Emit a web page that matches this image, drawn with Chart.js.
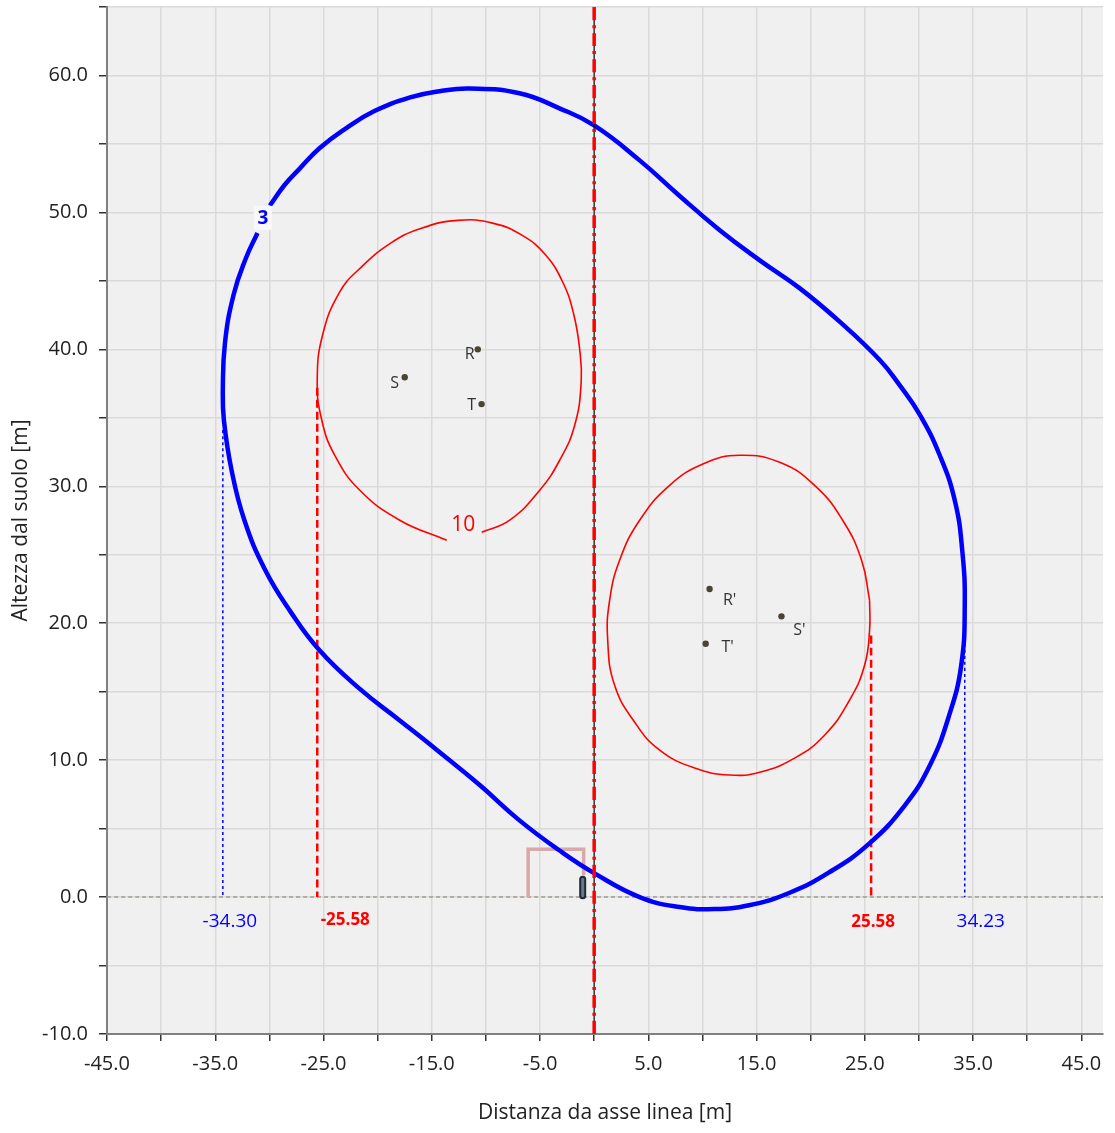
<!DOCTYPE html>
<html>
<head>
<meta charset="utf-8">
<script src="https://cdn.jsdelivr.net/npm/chart.js@4.4.1/dist/chart.umd.min.js"></script>
<style>
  body { margin: 0; background: #ffffff; }
  #wrap { width: 1115px; height: 1133px; }
</style>
</head>
<body>
<div id="wrap"><canvas id="myChart"></canvas></div>
<script>
//  Curva di livello 3 (blu), aperta sull'etichetta "3"
const contour3 = [
    [-29.96, 50.5], [-28.6, 52.0], [-27.2, 53.2], [-25.35, 54.7], [-23.0, 56.1], [-20.3, 57.4],
    [-17.0, 58.4], [-14.3, 58.85], [-11.5, 59.05], [-6.9, 58.7], [-3.2, 57.6], [0.0, 56.35],
    [4.2, 53.8], [7.9, 51.2], [11.6, 48.7], [15.3, 46.5], [19.0, 44.45], [22.7, 42.0],
    [26.4, 39.2], [28.2, 37.4], [30.1, 35.2], [31.9, 32.3], [33.3, 29.0], [34.0, 25.3],
    [34.23, 21.3], [33.9, 16.9], [32.8, 13.3], [31.0, 9.6], [28.7, 6.7], [25.4, 3.9],
    [21.7, 1.8], [18.0, 0.3], [14.3, -0.6], [11.1, -0.88], [7.9, -0.73], [4.2, 0.0],
    [0.0, 1.75], [-3.2, 3.4], [-6.9, 5.6], [-10.6, 8.2], [-14.3, 10.6], [-17.96, 12.9],
    [-21.65, 15.2], [-25.35, 18.0], [-28.1, 20.9], [-30.4, 23.9], [-32.3, 27.5], [-33.5, 31.2],
    [-34.2, 34.8], [-34.30, 37.0], [-34.1, 40.5], [-33.3, 44.0], [-32.2, 46.6], [-31.1, 48.5]
];
//  Curva di livello 10 (rossa) - conduttori R S T, aperta sull'etichetta "10"
const contour10a = [
    [-10.39, 26.64], [-7.80, 27.52], [-5.03, 29.71], [-3.19, 31.90], [-1.80, 34.45], [-1.2, 37.6],
    [-1.34, 40.0], [-1.90, 42.6], [-2.9, 44.9], [-4.5, 46.9], [-6.6, 48.3], [-9.3, 49.2],
    [-12.6, 49.42], [-16.1, 48.8], [-18.9, 47.7], [-21.65, 45.9], [-23.5, 44.2], [-25.07, 41.1],
    [-25.58, 37.74], [-25.16, 34.82], [-23.96, 32.26], [-21.65, 29.71], [-17.96, 27.52], [-13.62, 26.06]
];
//  Curva di livello 10 (rossa) - conduttori R' S' T'
const contour10b = [
    [25.44, 21.68], [25.44, 19.49], [24.98, 16.93], [23.59, 14.38], [21.28, 11.82], [18.51, 10.15],
    [15.28, 9.12], [12.51, 8.91], [9.28, 9.42], [6.05, 10.73], [3.74, 12.77], [1.89, 15.47],
    [1.25, 18.76], [1.43, 21.68], [2.35, 24.60], [4.20, 27.52], [6.97, 30.07], [10.20, 31.68],
    [13.43, 32.26], [17.13, 31.75], [20.36, 30.07], [22.95, 27.52], [24.70, 24.60], [25.44, 21.68]
];
//  Conduttori
const condNames = ["R", "S", "T", "R'", "S'", "T'"];
const condX = [-10.75, -17.5, -10.4, 10.66, 17.3, 10.3];
const condY = [40.0, 37.96, 36.0, 22.5, 20.5, 18.5];
//  Distanze di prima approssimazione
const dpaBlueX = [-34.30, 34.23];
const dpaBlueTop = [34.1, 18.5];
const dpaRedX = [-25.58, 25.58];
const dpaRedTop = [37.2, 19.1];
//  Edificio e ricettore
const building = [[-6.1, 0], [-6.1, 3.5], [-0.97, 3.5], [-0.97, 1.6]];
const receptor = [[-1.06, 0.1], [-1.06, 1.3]];

const xMin = -45, xMax = 47, yMin = -10, yMax = 65;

const pts = arr => arr.map(p => ({x: p[0], y: p[1]}));

function lineSet(data, color, width, dash, order){
    return {
        data: data, showLine: true, pointRadius: 0, pointHoverRadius: 0,
        borderColor: color, backgroundColor: color, borderWidth: width,
        borderDash: dash || [], order: order, tension: 0.45, fill: false
    };
}

const datasets = [];
datasets.push({
    data: condX.map((x, i) => ({x: x, y: condY[i]})),
    pointRadius: 3.2, pointBackgroundColor: '#4a4530', pointBorderWidth: 0,
    showLine: false, order: 0
});
datasets.push(lineSet(pts([[0, yMin], [0, yMax]]), '#ff0000', 3.5, [13, 5, 3, 5], 1));
datasets.push(lineSet(pts([[0, yMin], [0, yMax]]), '#111111', 1.2, [], 2));
let rec = lineSet(pts(receptor), '#1c2b3a', 7, [], 3);
rec.borderCapStyle = 'round';
datasets.push(rec);
let rec2 = lineSet(pts(receptor), '#6b7682', 3, [], 2.9);
rec2.borderCapStyle = 'round';
datasets.push(rec2);
datasets.push(lineSet(pts(contour3), '#0000ff', 4.5, [], 4));
let bld = lineSet(pts(building), '#d9a8a8', 3.5, [], 5);
bld.tension = 0;
datasets.push(bld);
datasets.push(lineSet(pts(contour10a), '#ff0000', 1.6, [], 6));
datasets.push(lineSet(pts(contour10b), '#ff0000', 1.6, [], 6));
for(let i=0; i<dpaRedX.length; i++){
    datasets.push(lineSet(pts([[dpaRedX[i], dpaRedTop[i]], [dpaRedX[i], 0]]), '#ff0000', 2.5, [8, 4], 7));
}
for(let i=0; i<dpaBlueX.length; i++){
    datasets.push(lineSet(pts([[dpaBlueX[i], dpaBlueTop[i]], [dpaBlueX[i], 0]]), '#0000ff', 1.5, [3, 3], 7));
}
datasets.push(lineSet(pts([[xMin, 0], [xMax, 0]]), '#a09c90', 1.5, [4, 3], 8));

//  Sfondo area grafico ed etichette
const labelsPlugin = {
    id: 'labelsPlugin',
    beforeDraw(chart){
        const {ctx, chartArea} = chart;
        ctx.save();
        ctx.fillStyle = '#f0f0f0';
        ctx.fillRect(chartArea.left, chartArea.top, chartArea.right - chartArea.left, chartArea.bottom - chartArea.top);
        ctx.restore();
    },
    afterDatasetsDraw(chart){
        const ctx = chart.ctx;
        const sx = chart.scales.x, sy = chart.scales.y;
        ctx.save();
        ctx.textAlign = 'center';
        ctx.textBaseline = 'middle';

        //  nomi conduttori
        const offs = [[-8, 5], [-10, 6], [-10, 1], [20, 11], [18, 14], [22, 4]];
        ctx.font = '16px "Open Sans"';
        ctx.fillStyle = '#333333';
        condNames.forEach((n, i) => {
            ctx.fillText(n, sx.getPixelForValue(condX[i]) + offs[i][0], sy.getPixelForValue(condY[i]) + offs[i][1]);
        });

        //  etichetta curva 3
        let px = sx.getPixelForValue(-30.6), py = sy.getPixelForValue(49.6);
        ctx.fillStyle = '#f8f8f8';
        ctx.fillRect(px - 9, py - 12, 18, 24);
        ctx.font = 'bold 19px "Open Sans"';
        ctx.fillStyle = '#0000ff';
        ctx.fillText('3', px, py + 1);

        //  etichetta curva 10
        ctx.font = '21px "Open Sans"';
        ctx.fillStyle = '#ff0000';
        ctx.fillText('10', sx.getPixelForValue(-12.1), sy.getPixelForValue(27.2));

        //  quote DPA
        const y0 = sy.getPixelForValue(0) + 25;
        ctx.font = '19px "Open Sans"';
        ctx.fillStyle = '#0000ff';
        ctx.fillText(dpaBlueX[0].toFixed(2), sx.getPixelForValue(dpaBlueX[0]) + 7, y0);
        ctx.fillText(dpaBlueX[1].toFixed(2), sx.getPixelForValue(dpaBlueX[1]) + 16, y0);
        ctx.font = 'bold 17px "Open Sans"';
        ctx.fillStyle = '#ff0000';
        ctx.fillText(dpaRedX[0].toFixed(2), sx.getPixelForValue(dpaRedX[0]) + 28, y0 - 2);
        ctx.fillText(dpaRedX[1].toFixed(2), sx.getPixelForValue(dpaRedX[1]) + 2, y0);
        ctx.restore();
    }
};

const config = {
    type: 'scatter',
    data: { datasets: datasets },
    options: {
        responsive: true,
        maintainAspectRatio: false,
        animation: false,
        layout: { padding: { top: 7, right: 12 } },
        plugins: { legend: { display: false }, tooltip: { enabled: false } },
        scales: {
            x: {
                type: 'linear', min: xMin, max: xMax,
                afterFit: scale => { scale.height = 99; },
                ticks: {
                    stepSize: 5, includeBounds: false, padding: 11, color: '#222222',
                    font: { family: '"Open Sans"', size: 20 },
                    callback: v => (Math.abs(v) % 10 === 5) ? v.toFixed(1) : ''
                },
                grid: { color: '#dadada', lineWidth: 1.5, tickLength: 7, tickColor: '#333333' },
                border: { color: '#808080', width: 2 },
                title: {
                    display: true, text: 'Distanza da asse linea [m]', color: '#222222',
                    font: { family: '"Open Sans"', size: 21 }, padding: { top: 4, bottom: 7 }
                }
            },
            y: {
                type: 'linear', min: yMin, max: yMax,
                afterFit: scale => { scale.width = 107; scale.paddingTop = 0; scale.paddingBottom = 0; },
                ticks: {
                    stepSize: 5, padding: 11, color: '#222222',
                    font: { family: '"Open Sans"', size: 20 },
                    callback: v => (Math.abs(v) % 10 === 0) ? v.toFixed(1) : ''
                },
                grid: { color: '#dadada', lineWidth: 1.5, tickLength: 8, tickColor: '#333333' },
                border: { color: '#808080', width: 2 },
                title: {
                    display: true, text: 'Altezza dal suolo [m]', color: '#222222',
                    font: { family: '"Open Sans"', size: 21 }, padding: { top: 8, bottom: 4 }
                }
            }
        }
    },
    plugins: [labelsPlugin]
};

let myChart = new Chart(document.getElementById('myChart'), config);
</script>
</body>
</html>
